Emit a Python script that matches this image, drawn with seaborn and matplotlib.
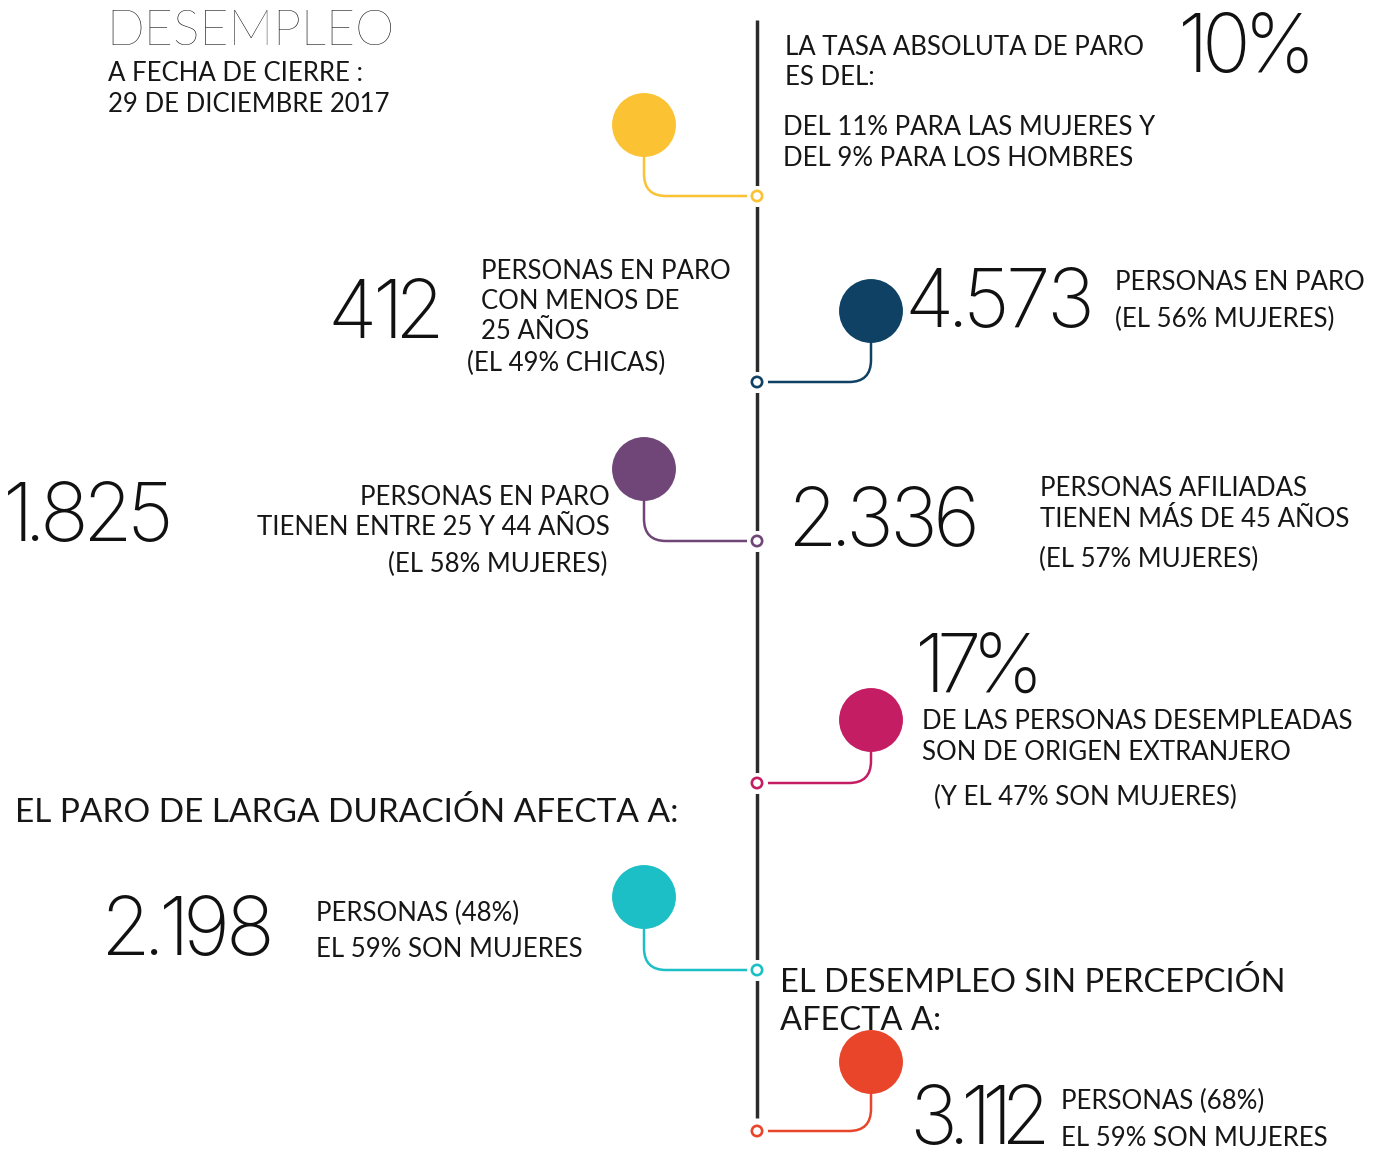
import pandas as pd
import matplotlib.pyplot as plt
import seaborn as sns
from matplotlib.path import Path
from matplotlib.patches import PathPatch
from matplotlib.textpath import TextPath
from matplotlib.font_manager import FontProperties

# textos y cifras
titulo = "DESEMPLEO"
subtitulo = ["A FECHA DE CIERRE :", "29 DE DICIEMBRE 2017"]
tasa = "10%"
tasa_txt = ["LA TASA ABSOLUTA DE PARO", "ES DEL:"]
tasa_sexo = ["DEL 11% PARA LAS MUJERES Y", "DEL 9% PARA LOS HOMBRES"]
jovenes = "412"
jovenes_txt = ["PERSONAS EN PARO", "CON MENOS DE", "25 AÑOS"]
jovenes_pct = "(EL 49% CHICAS)"
parados = "4.573"
parados_txt = ["PERSONAS EN PARO", "(EL 56% MUJERES)"]
medios = "1.825"
medios_txt = ["PERSONAS EN PARO", "TIENEN ENTRE 25 Y 44 AÑOS"]
medios_pct = "(EL 58% MUJERES)"
mayores = "2.336"
mayores_txt = ["PERSONAS AFILIADAS", "TIENEN MÁS DE 45 AÑOS"]
mayores_pct = "(EL 57% MUJERES)"
extranjeros = "17%"
extranjeros_txt = ["DE LAS PERSONAS DESEMPLEADAS", "SON DE ORIGEN EXTRANJERO"]
extranjeros_pct = "(Y EL 47% SON MUJERES)"
larga_titulo = "EL PARO DE LARGA DURACIÓN AFECTA A:"
larga = "2.198"
larga_txt = ["PERSONAS (48%)", "EL 59% SON MUJERES"]
sinp_titulo = ["EL DESEMPLEO SIN PERCEPCIÓN", "AFECTA A:"]
sinp = "3.112"
sinp_txt = ["PERSONAS (68%)", "EL 59% SON MUJERES"]

hitos = ["tasa", "parados", "medios", "extranjeros", "larga", "sinp"]
colores = ["#FBC233", "#0E4163", "#6F4677", "#C41D63", "#1DBFC6", "#E9452A"]
lado = [-1, 1, -1, 1, -1, 1]

sns.set_theme(style="white")
plt.rcParams['font.family'] = ['Lato', 'DejaVu Sans']
TINTA = "#161616"
LINEA = "#2b2b2b"

fig = plt.figure(figsize=(13.81, 11.51), dpi=100)
ax = fig.add_axes([0, 0, 1, 1])

# linea de tiempo
tx = 757
ty = [196, 382, 541, 783, 970, 1131]
cy = [125, 311, 469, 720, 897, 1062]
cx = [644 if l < 0 else 871 for l in lado]
ax.plot([tx, tx], [20, 1118], color=LINEA, lw=2.5, zorder=1, solid_capstyle='butt')

rc = 22
for x, yc, yt, col in zip(cx, cy, ty, colores):
    d = 1 if x < tx else -1
    verts = [(x, yc), (x, yt - rc), (x, yt), (x + d * rc, yt), (tx - d * 8, yt)]
    codes = [Path.MOVETO, Path.LINETO, Path.CURVE3, Path.CURVE3, Path.LINETO]
    ax.add_patch(PathPatch(Path(verts, codes), fill=False, edgecolor=col, lw=1.8, zorder=2))

df = pd.DataFrame({"hito": hitos, "x": cx, "y": cy, "tx": tx, "ty": ty})
sns.scatterplot(data=df, x="x", y="y", hue="hito", palette=colores, s=2116,
                linewidth=0, legend=False, ax=ax, zorder=3)
sns.scatterplot(data=df, x="tx", y="ty", color="white", s=230, linewidth=0,
                legend=False, ax=ax, zorder=3)
sns.scatterplot(data=df, x="tx", y="ty", hue="hito", palette=["white"] * 6, s=55,
                linewidth=1.9, edgecolor=colores, legend=False, ax=ax, zorder=4)
ax.set_xlim(0, 1381)
ax.set_ylim(1151, 0)
ax.axis('off')


def txt(x, ys, lineas, size, ha='left', w='normal', fam=None, color=TINTA):
    if isinstance(lineas, str):
        lineas, ys = [lineas], [ys]
    for y, s in zip(ys, lineas):
        ax.text(x, y, s, fontsize=size, ha=ha, va='baseline', color=color,
                fontweight=w, family=fam or ['Lato', 'DejaVu Sans'])


NUM = 58
fp_num = FontProperties(family='Inter', weight='light')
PX = 100 / 72


def num(x, y, s, ha='left', gap=7):
    # cifras grandes: cada signo por separado, espaciado segun su trazo
    tinta = []
    for ch in s:
        ext = TextPath((0, 0), ch, size=NUM, prop=fp_num).get_extents()
        tinta.append((ext.x0 * PX, ext.width * PX))
    total = sum(w for _, w in tinta) + gap * (len(s) - 1)
    pos = x if ha == 'left' else x - total
    for ch, (x0, w) in zip(s, tinta):
        ax.text(pos - x0, y, ch, fontsize=NUM, ha='left', va='baseline',
                color="#111111", fontproperties=fp_num)
        pos += w + gap


CHICO = 18.5

txt(106, 45, titulo, 36, w='light', color="#000000")
txt(108, [81, 112], subtitulo, CHICO)

txt(785, [55, 85], tasa_txt, CHICO)
num(1183, 72, tasa)
txt(783, [135, 166], tasa_sexo, CHICO)

num(438, 338, jovenes, ha='right')
txt(481, [279, 309, 339], jovenes_txt, CHICO)
txt(467, 371, jovenes_pct, CHICO)

num(910, 327, parados)
txt(1115, [290, 327], parados_txt, CHICO)

num(8, 541, medios)
txt(610, [505, 535], medios_txt, CHICO, ha='right')
txt(607, 572, medios_pct, CHICO, ha='right')

num(795, 546, mayores)
txt(1040, [496, 527], mayores_txt, CHICO)
txt(1039, 567, mayores_pct, CHICO)

num(920, 692, extranjeros, gap=4)
txt(922, [729, 760], extranjeros_txt, CHICO)
txt(934, 805, extranjeros_pct, CHICO)

txt(15, 822, larga_titulo, 24)
num(108, 955, larga)
txt(316, [921, 957], larga_txt, CHICO)

txt(780, [992, 1030], sinp_titulo, 23.5)
num(915, 1144, sinp, gap=4)
txt(1061, [1109, 1146], sinp_txt, CHICO)

plt.savefig("out.png", dpi=100)
